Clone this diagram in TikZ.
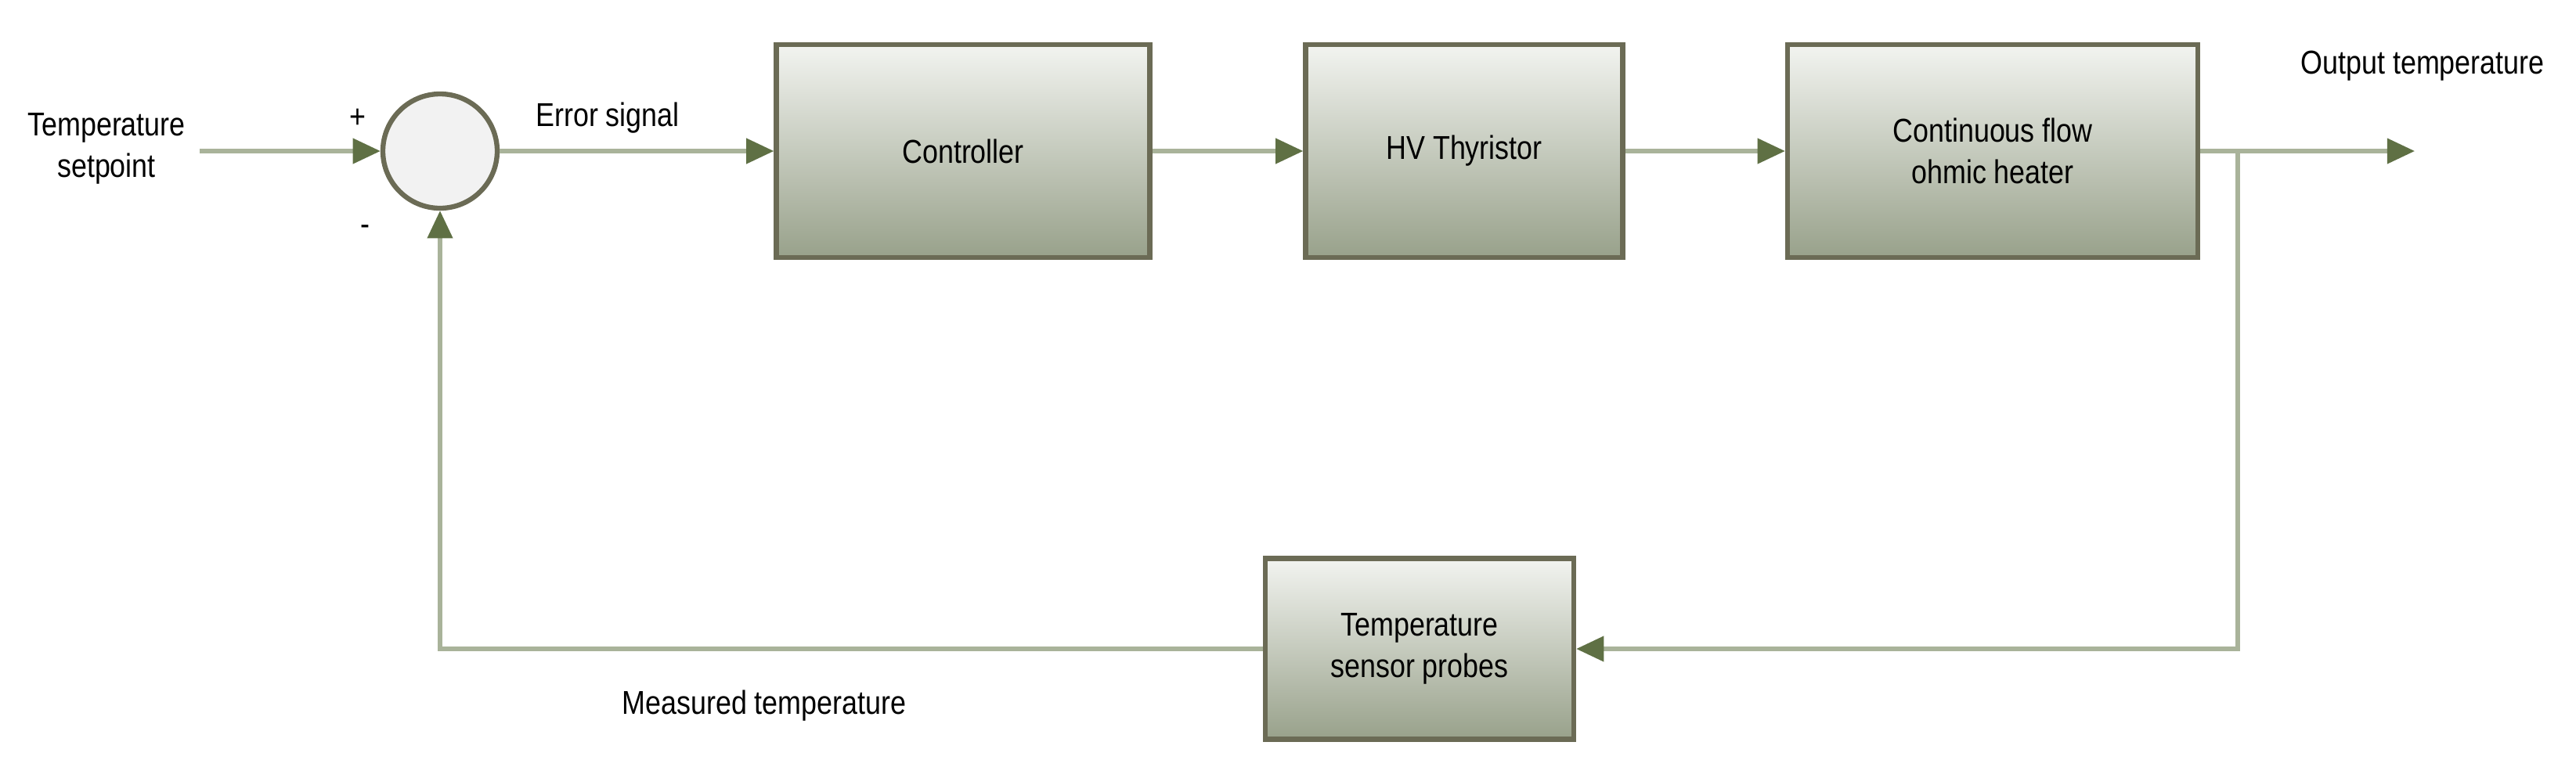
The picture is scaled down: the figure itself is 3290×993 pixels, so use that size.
\documentclass[tikz,border=0pt]{standalone}
\usepackage{fontspec}
\setmainfont{Liberation Sans}[FakeStretch=0.85]
\usetikzlibrary{arrows.meta}
\definecolor{ln}{HTML}{A9B39A}
\definecolor{tip}{HTML}{5F7044}
\definecolor{bd}{HTML}{6B6B55}
\begin{document}
\begin{tikzpicture}[x=0.01cm,y=-0.01cm,
 box/.style={draw=bd,line width=1.8pt,top color=white!85!ln,bottom color=ln!90!black,align=center,font=\fontsize{12}{15}\selectfont,inner sep=0},
 conn/.style={draw=ln,line width=1.5pt,-{Triangle[length=10pt,width=9pt,fill=tip,color=tip]}},
 lab/.style={font=\fontsize{12}{15}\selectfont,align=center}]
\useasboundingbox (0,0) rectangle (3290,993);
\node[circle,draw=bd,fill=black!5,line width=1.8pt,minimum size=146*0.01cm,inner sep=0] (sum) at (562,193) {};
\node[box,minimum width=477*0.01cm,minimum height=272*0.01cm] (ctrl) at (1230,193) {Controller};
\node[box,minimum width=405*0.01cm,minimum height=272*0.01cm] (thy) at (1870,193) {HV Thyristor};
\node[box,minimum width=524*0.01cm,minimum height=272*0.01cm] (heat) at (2545,193) {Continuous flow\\ohmic heater};
\node[box,minimum width=394*0.01cm,minimum height=231*0.01cm] (sens) at (1813,829) {Temperature\\sensor probes};
\node[lab] (sp) at (136,190) {Temperature\\setpoint};
\coordinate (in) at (255,193);
\coordinate (br) at (2858,193);
\coordinate (out) at (3084,193);
\coordinate (c1) at (2858,829);
\coordinate (c2) at (562,829);
\node[lab] (es) at (776,151) {Error signal};
\node[lab,anchor=east] (ot) at (3262,84) {Output temperature};
\node[lab] (mt) at (976,902) {Measured temperature};
\node[lab] (pl) at (457,151) {+};
\node[lab] (mi) at (466,294) {-};
\draw[conn] (in) -- (sum);
\draw[conn] (sum) -- (ctrl);
\draw[conn] (ctrl) -- (thy);
\draw[conn] (thy) -- (heat);
\draw[conn] (heat) -- (out);
\draw[conn] (br) -- (c1) -- (sens);
\draw[conn] (sens) -- (c2) -- (sum);
\end{tikzpicture}
\end{document}
